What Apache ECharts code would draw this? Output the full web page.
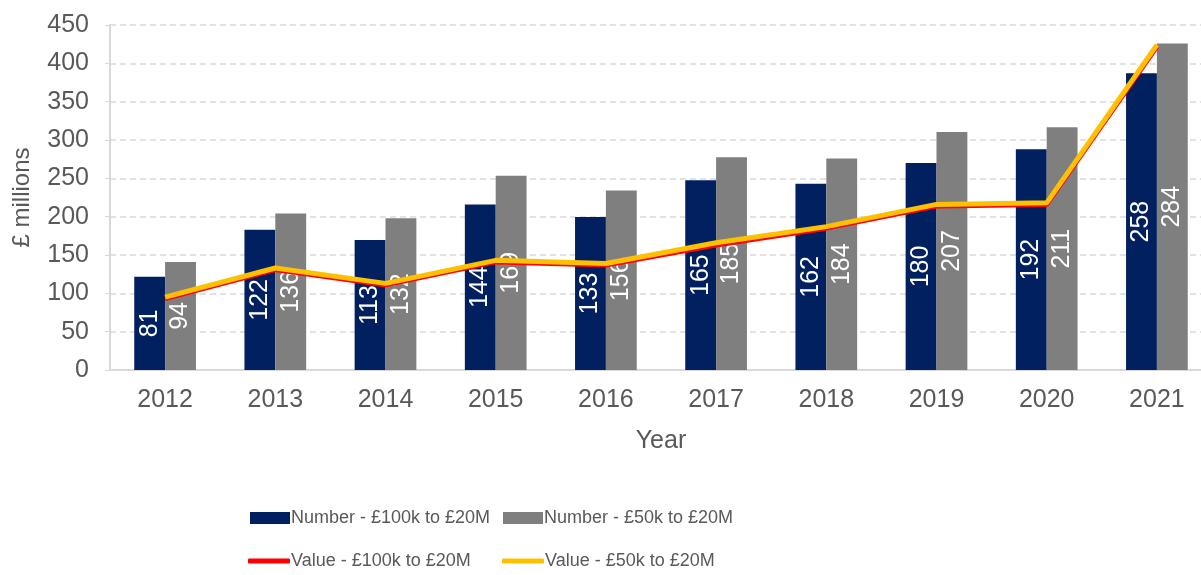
<!DOCTYPE html>
<html>
<head>
<meta charset="utf-8">
<script src="https://cdn.jsdelivr.net/npm/echarts@6/dist/echarts.min.js"></script>
<style>
    html, body { margin: 0; padding: 0; background: #fff; }
    #chart { width: 1201px; height: 575px; }
</style>
</head>
<body>
<div id="chart"></div>
<script>
var years = ['2012', '2013', '2014', '2015', '2016', '2017', '2018', '2019', '2020', '2021'];
// number of deals (bars, drawn on a hidden 0-300 axis)
var number100k = [81, 122, 113, 144, 133, 165, 162, 180, 192, 258];
var number50k = [94, 136, 132, 169, 156, 185, 184, 207, 211, 284];
// value in £ millions (lines)
var value100k = [93, 131, 111, 141, 137, 163, 185, 214, 216, 422];
var value50k = [95, 133, 113, 143, 139, 166, 187, 216, 218, 424];

window.onload = function () {
    var chart = echarts.init(document.getElementById('chart'));
    var txt = '#595959';
    var font = 'Liberation Sans, Arial, sans-serif';

    var barLabel = {
        show: true,
        position: 'inside',
        rotate: 90,
        color: '#ffffff',
        fontSize: 25,
        fontFamily: font
    };

    // one legend per entry so the two columns line up
    function legendItem(name, left, top, isLine) {
        return {
            left: left,
            top: top,
            itemWidth: isLine ? 42 : 40,
            itemHeight: isLine ? 5 : 12,
            itemGap: 0,
            icon: isLine ? 'roundRect' : 'rect',
            textStyle: { color: txt, fontSize: 18, fontFamily: font, padding: [0, 0, 0, -4] },
            data: [name]
        };
    }

    var option = {
        animation: false,
        grid: {
            left: 110,
            right: -11,
            top: 25,
            bottom: 205,
            containLabel: false,
            outerBoundsMode: 'none'
        },
        legend: [
            legendItem('Number - £100k to £20M', 245, 504, false),
            legendItem('Number - £50k to £20M', 498, 504, false),
            legendItem('Value - £100k to £20M', 243, 547, true),
            legendItem('Value - £50k to £20M', 497, 547, true)
        ],
        xAxis: {
            type: 'category',
            data: years,
            name: 'Year',
            nameLocation: 'middle',
            nameGap: 59,
            nameTextStyle: { color: txt, fontSize: 25, fontFamily: font },
            axisLine: { lineStyle: { color: '#d9d9d9', width: 2 } },
            axisTick: { alignWithLabel: true, length: 6, lineStyle: { color: '#d9d9d9' } },
            axisLabel: { color: txt, fontSize: 25, fontFamily: font, margin: 18 },
            splitLine: { show: false }
        },
        yAxis: [
            {
                type: 'value',
                min: 0,
                max: 450,
                interval: 50,
                name: '£ millions',
                nameLocation: 'middle',
                nameGap: 76,
                nameTextStyle: { color: txt, fontSize: 24, fontFamily: font },
                axisLine: { show: true, lineStyle: { color: '#d9d9d9', width: 2 } },
                axisTick: { show: true, length: 5, lineStyle: { color: '#d9d9d9' } },
                axisLabel: { color: txt, fontSize: 25, fontFamily: font, margin: 21 },
                splitLine: { lineStyle: { color: '#d9d9d9', type: [6, 4], width: 1.5 } }
            },
            {
                type: 'value',
                min: 0,
                max: 300,
                show: false,
                splitLine: { show: false }
            }
        ],
        series: [
            {
                name: 'Number - £100k to £20M',
                type: 'bar',
                yAxisIndex: 1,
                data: number100k,
                barGap: '0%',
                barCategoryGap: '44%',
                itemStyle: { color: '#002060' },
                label: barLabel
            },
            {
                name: 'Number - £50k to £20M',
                type: 'bar',
                yAxisIndex: 1,
                data: number50k,
                itemStyle: { color: '#7f7f7f' },
                label: barLabel
            },
            {
                name: 'Value - £100k to £20M',
                type: 'line',
                yAxisIndex: 0,
                data: value100k,
                symbol: 'none',
                z: 3,
                lineStyle: { color: '#ff0000', width: 5 },
                itemStyle: { color: '#ff0000' }
            },
            {
                name: 'Value - £50k to £20M',
                type: 'line',
                yAxisIndex: 0,
                data: value50k,
                symbol: 'none',
                z: 4,
                lineStyle: { color: '#ffc000', width: 5 },
                itemStyle: { color: '#ffc000' }
            }
        ]
    };
    chart.setOption(option);
};
</script>
</body>
</html>
